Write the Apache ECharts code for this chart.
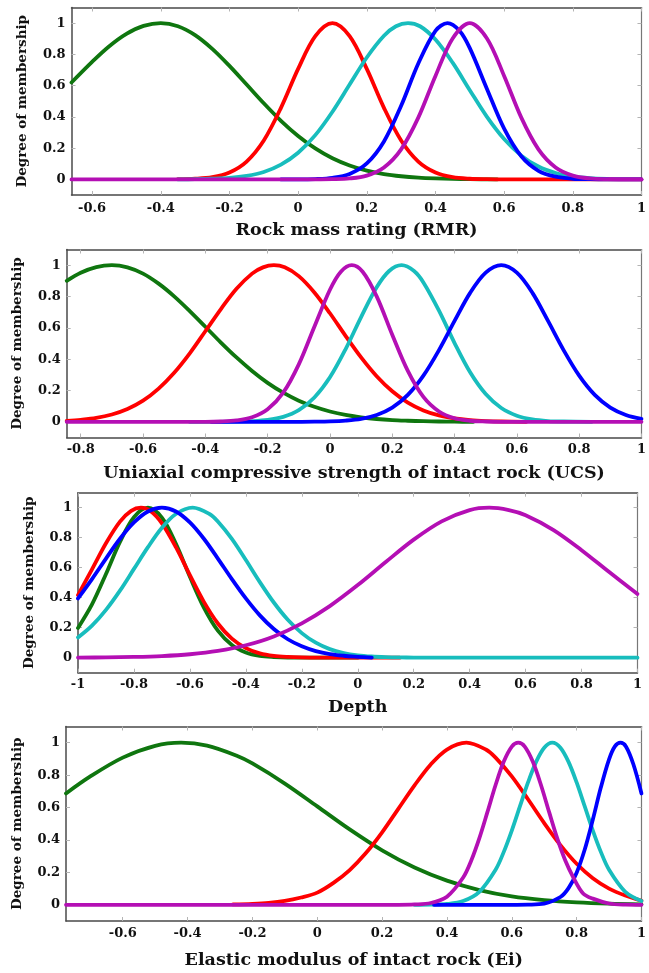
<!DOCTYPE html>
<html><head><meta charset="utf-8">
<script src="https://cdn.jsdelivr.net/npm/echarts@6/dist/echarts.min.js"></script>
<style>html,body{margin:0;padding:0;background:#fff}#c{width:649px;height:973px}</style>
</head><body><div id="c"></div><script>
// ---------- data ----------
const yTicks = [0, 0.2, 0.4, 0.6, 0.8, 1];
const rmrTicks = [-0.6, -0.4, -0.2, 0, 0.2, 0.4, 0.6, 0.8, 1];
const ucsTicks = [-0.8, -0.6, -0.4, -0.2, 0, 0.2, 0.4, 0.6, 0.8, 1];
const depthTicks = [-1, -0.8, -0.6, -0.4, -0.2, 0, 0.2, 0.4, 0.6, 0.8, 1];
const eiTicks = [-0.6, -0.4, -0.2, 0, 0.2, 0.4, 0.6, 0.8, 1];

const rmrGreen = [[-0.66,0.62],[-0.6,0.752],[-0.55,0.852],[-0.5,0.931],[-0.45,0.982],[-0.4,1],[-0.35,0.98],[-0.3,0.923],[-0.25,0.835],[-0.2,0.726],[-0.15,0.607],[-0.1,0.487],[-0.05,0.375],[0,0.278],[0.05,0.198],[0.1,0.135],[0.15,0.089],[0.2,0.056],[0.25,0.034],[0.3,0.02],[0.35,0.011],[0.4,0.006],[0.45,0.003],[0.5,0.001],[0.58,0]];
const rmrRed = [[-0.35,0.001],[-0.3,0.004],[-0.25,0.014],[-0.2,0.044],[-0.15,0.114],[-0.1,0.249],[-0.05,0.458],[0,0.707],[0.05,0.917],[0.1,1],[0.15,0.917],[0.2,0.707],[0.25,0.458],[0.3,0.249],[0.35,0.114],[0.4,0.044],[0.45,0.014],[0.5,0.004],[0.55,0.001],[0.6,0],[1,0]];
const rmrCyan = [[-0.35,0],[-0.3,0.001],[-0.25,0.004],[-0.2,0.009],[-0.15,0.022],[-0.1,0.047],[-0.05,0.094],[0,0.17],[0.05,0.283],[0.1,0.433],[0.15,0.607],[0.2,0.78],[0.25,0.919],[0.285,0.98],[0.32,1],[0.355,0.98],[0.4,0.895],[0.45,0.747],[0.5,0.571],[0.55,0.4],[0.6,0.258],[0.65,0.152],[0.7,0.082],[0.75,0.041],[0.8,0.019],[0.85,0.008],[0.9,0.003]];
const rmrBlue = [[-0.05,0],[0,0],[0.05,0.002],[0.1,0.01],[0.15,0.035],[0.2,0.102],[0.25,0.243],[0.3,0.471],[0.35,0.742],[0.4,0.951],[0.435,1],[0.47,0.951],[0.5,0.84],[0.55,0.579],[0.6,0.325],[0.65,0.148],[0.7,0.055],[0.75,0.017],[0.8,0.004],[0.85,0.001],[0.9,0],[1,0]];
const rmrPurple = [[-0.66,0],[0,0],[0.05,0],[0.1,0.001],[0.15,0.006],[0.2,0.024],[0.25,0.076],[0.3,0.192],[0.35,0.395],[0.4,0.662],[0.45,0.902],[0.5,1],[0.55,0.902],[0.6,0.662],[0.65,0.395],[0.7,0.192],[0.75,0.076],[0.8,0.024],[0.85,0.006],[0.9,0.001],[0.95,0],[1,0]];

const ucsGreen = [[-0.845,0.9],[-0.8,0.952],[-0.75,0.988],[-0.7,1],[-0.65,0.986],[-0.6,0.946],[-0.55,0.882],[-0.5,0.801],[-0.45,0.707],[-0.4,0.607],[-0.35,0.506],[-0.3,0.411],[-0.25,0.325],[-0.2,0.249],[-0.15,0.186],[-0.1,0.135],[-0.05,0.096],[0,0.066],[0.05,0.044],[0.1,0.029],[0.15,0.018],[0.2,0.011],[0.25,0.007],[0.3,0.004],[0.35,0.002],[0.4,0.001],[0.46,0]];
const ucsRed = [[-0.845,0.006],[-0.8,0.013],[-0.75,0.025],[-0.7,0.047],[-0.65,0.082],[-0.6,0.135],[-0.55,0.212],[-0.5,0.313],[-0.45,0.437],[-0.4,0.578],[-0.35,0.72],[-0.3,0.849],[-0.25,0.946],[-0.215,0.986],[-0.18,1],[-0.145,0.986],[-0.1,0.93],[-0.05,0.826],[0,0.693],[0.05,0.549],[0.1,0.411],[0.15,0.291],[0.2,0.195],[0.25,0.123],[0.3,0.073],[0.35,0.041],[0.4,0.022],[0.45,0.011],[0.5,0.005],[0.55,0.002],[0.63,0]];
const ucsCyan = [[-0.45,0],[-0.3,0.001],[-0.25,0.004],[-0.2,0.012],[-0.15,0.032],[-0.1,0.075],[-0.05,0.155],[0,0.284],[0.05,0.463],[0.1,0.669],[0.15,0.859],[0.19,0.963],[0.23,1],[0.27,0.963],[0.3,0.89],[0.35,0.71],[0.4,0.503],[0.45,0.316],[0.5,0.177],[0.55,0.088],[0.6,0.039],[0.65,0.015],[0.7,0.005],[0.75,0.002],[0.84,0]];
const ucsBlue = [[-0.38,0],[-0.1,0],[-0.05,0.001],[0,0.003],[0.05,0.008],[0.1,0.019],[0.15,0.044],[0.2,0.091],[0.25,0.172],[0.3,0.295],[0.35,0.458],[0.4,0.644],[0.45,0.823],[0.5,0.952],[0.55,1],[0.6,0.952],[0.65,0.823],[0.7,0.644],[0.75,0.458],[0.8,0.295],[0.85,0.172],[0.9,0.091],[0.95,0.044],[1,0.019]];
const ucsPurple = [[-0.845,0],[-0.4,0],[-0.35,0.002],[-0.3,0.009],[-0.25,0.029],[-0.2,0.08],[-0.15,0.186],[-0.1,0.367],[-0.05,0.607],[0,0.843],[0.035,0.958],[0.07,1],[0.105,0.958],[0.15,0.801],[0.2,0.556],[0.25,0.325],[0.3,0.159],[0.35,0.066],[0.4,0.023],[0.45,0.007],[0.5,0.002],[0.55,0],[1,0]];

const depthGreen = [[-1,0.198],[-0.95,0.355],[-0.9,0.558],[-0.85,0.772],[-0.8,0.937],[-0.75,1],[-0.7,0.934],[-0.65,0.76],[-0.6,0.539],[-0.55,0.334],[-0.5,0.18],[-0.45,0.085],[-0.4,0.035],[-0.35,0.012],[-0.3,0.004],[-0.25,0.001],[0,0]];
const depthRed = [[-1,0.417],[-0.95,0.589],[-0.9,0.763],[-0.85,0.907],[-0.81,0.979],[-0.775,1],[-0.74,0.977],[-0.7,0.896],[-0.65,0.737],[-0.6,0.55],[-0.55,0.372],[-0.5,0.228],[-0.45,0.127],[-0.4,0.064],[-0.35,0.029],[-0.3,0.012],[-0.25,0.005],[-0.2,0.002],[-0.1,0],[0.15,0]];
const depthCyan = [[-1,0.135],[-0.95,0.214],[-0.9,0.319],[-0.85,0.447],[-0.8,0.592],[-0.75,0.737],[-0.7,0.866],[-0.65,0.958],[-0.59,1],[-0.53,0.958],[-0.5,0.908],[-0.45,0.792],[-0.4,0.651],[-0.35,0.504],[-0.3,0.368],[-0.25,0.253],[-0.2,0.164],[-0.15,0.1],[-0.1,0.057],[-0.05,0.031],[0,0.016],[0.05,0.008],[0.1,0.004],[0.15,0.002],[0.2,0.001],[0.3,0],[1,0]];
const depthBlue = [[-1,0.395],[-0.95,0.524],[-0.9,0.661],[-0.85,0.793],[-0.8,0.902],[-0.75,0.975],[-0.7,1],[-0.65,0.975],[-0.6,0.902],[-0.55,0.793],[-0.5,0.661],[-0.45,0.524],[-0.4,0.395],[-0.35,0.282],[-0.3,0.191],[-0.25,0.123],[-0.2,0.076],[-0.15,0.044],[-0.1,0.024],[-0.05,0.013],[0,0.006],[0.05,0]];
const depthPurple = [[-1,0.001],[-0.9,0.002],[-0.8,0.005],[-0.7,0.011],[-0.6,0.023],[-0.5,0.045],[-0.4,0.083],[-0.3,0.142],[-0.2,0.229],[-0.1,0.344],[0,0.484],[0.1,0.638],[0.2,0.787],[0.3,0.909],[0.4,0.984],[0.47,1],[0.54,0.984],[0.6,0.95],[0.7,0.851],[0.8,0.717],[0.9,0.569],[1,0.425]];

const eiGreen = [[-0.775,0.687],[-0.7,0.792],[-0.6,0.908],[-0.5,0.981],[-0.42,1],[-0.34,0.982],[-0.25,0.921],[-0.2,0.872],[-0.1,0.748],[0,0.607],[0.1,0.465],[0.2,0.336],[0.3,0.23],[0.4,0.149],[0.5,0.091],[0.6,0.052],[0.7,0.029],[0.8,0.015],[0.9,0.007],[1,0.003]];
const eiRed = [[-0.26,0.002],[-0.2,0.006],[-0.15,0.012],[-0.1,0.024],[-0.05,0.045],[0,0.075],[0.05,0.135],[0.1,0.214],[0.15,0.319],[0.2,0.447],[0.25,0.592],[0.3,0.737],[0.35,0.866],[0.4,0.958],[0.46,1],[0.52,0.958],[0.55,0.908],[0.6,0.792],[0.65,0.651],[0.7,0.504],[0.75,0.368],[0.8,0.253],[0.85,0.164],[0.9,0.1],[0.95,0.057],[1,0.025]];
const eiCyan = [[0.3,0],[0.35,0.001],[0.4,0.005],[0.45,0.023],[0.5,0.08],[0.55,0.216],[0.575,0.325],[0.6,0.458],[0.625,0.607],[0.65,0.755],[0.675,0.882],[0.7,0.969],[0.725,1],[0.75,0.969],[0.775,0.882],[0.8,0.755],[0.825,0.607],[0.85,0.458],[0.875,0.325],[0.9,0.216],[0.95,0.08],[1,0.023]];
const eiBlue = [[0.36,0],[0.6,0],[0.65,0.001],[0.7,0.007],[0.75,0.048],[0.775,0.103],[0.8,0.198],[0.825,0.341],[0.85,0.526],[0.875,0.726],[0.9,0.897],[0.918,0.977],[0.935,1],[0.952,0.977],[0.975,0.867],[1,0.687]];
const eiPurple = [[-0.775,0],[0.25,0],[0.3,0.002],[0.35,0.011],[0.4,0.05],[0.45,0.168],[0.475,0.273],[0.5,0.411],[0.525,0.573],[0.55,0.739],[0.575,0.882],[0.6,0.976],[0.62,1],[0.64,0.976],[0.665,0.882],[0.69,0.739],[0.715,0.573],[0.74,0.411],[0.765,0.273],[0.79,0.168],[0.82,0.07],[0.85,0.038],[0.9,0.008],[0.95,0.001],[1,0]];

// ---------- presentation ----------
const COLORS = {green:'#0f760f', red:'#ff0000', cyan:'#18bdbd', blue:'#0000ff', purple:'#b40fb4'};
const FONT = 'DejaVu Serif';
const panels = [
  {title:'Rock mass rating (RMR)', min:-0.66, max:1, ticks:rmrTicks, grid:{left:71.5, top:7.5, width:571.5, height:187.5}, margin:7, nameGap:26,
   curves:[['green',rmrGreen],['red',rmrRed],['cyan',rmrCyan],['blue',rmrBlue],['purple',rmrPurple]]},
  {title:'Uniaxial compressive strength of intact rock (UCS)', min:-0.845, max:1, ticks:ucsTicks, grid:{left:66.7, top:249.5, width:581.3, height:188}, margin:6, nameGap:27,
   curves:[['green',ucsGreen],['red',ucsRed],['cyan',ucsCyan],['blue',ucsBlue],['purple',ucsPurple]]},
  {title:'Depth', min:-1, max:1, ticks:depthTicks, grid:{left:78, top:492.7, width:559.5, height:180}, margin:5, nameGap:26,
   curves:[['green',depthGreen],['red',depthRed],['cyan',depthCyan],['blue',depthBlue],['purple',depthPurple]]},
  {title:'Elastic modulus of intact rock (Ei)', min:-0.775, max:1, ticks:eiTicks, grid:{left:66, top:726.5, width:579.5, height:194.5}, margin:6, nameGap:30,
   curves:[['green',eiGreen],['red',eiRed],['cyan',eiCyan],['blue',eiBlue],['purple',eiPurple]]}
];

const fmt = v => String(+(+v).toFixed(2));
const lineStyle = {color:'#4a4a4a', width:1.5};
const tickStyle = {color:'#b4b4b4', width:1};
const grids = [], xAxes = [], yAxes = [], series = [];
panels.forEach((p, i) => {
  grids.push(Object.assign({containLabel:false}, p.grid));
  const xi = xAxes.length, yi = yAxes.length;
  xAxes.push({type:'value', gridIndex:i, min:p.min, max:p.max, position:'bottom',
    axisLine:{show:true, onZero:false, lineStyle},
    axisTick:{show:true, inside:true, length:4, customValues:p.ticks, lineStyle:tickStyle},
    axisLabel:{customValues:p.ticks, margin:p.margin, formatter:fmt, fontFamily:FONT, fontWeight:'bold', fontSize:13, color:'#111'},
    splitLine:{show:false},
    name:p.title, nameLocation:'middle', nameGap:p.nameGap,
    nameTextStyle:{fontFamily:FONT, fontWeight:'bold', fontSize:17.5, color:'#111'}});
  xAxes.push({type:'value', gridIndex:i, min:p.min, max:p.max, position:'top',
    axisLine:{show:true, onZero:false, lineStyle},
    axisTick:{show:true, inside:true, length:4, customValues:p.ticks, lineStyle:tickStyle},
    axisLabel:{show:false}, splitLine:{show:false}});
  yAxes.push({type:'value', gridIndex:i, min:-0.1, max:1.1, position:'left',
    axisLine:{show:true, onZero:false, lineStyle},
    axisTick:{show:true, inside:true, length:4, customValues:yTicks, lineStyle:tickStyle},
    axisLabel:{customValues:yTicks, margin:6, formatter:fmt, fontFamily:FONT, fontWeight:'bold', fontSize:13, color:'#111'},
    splitLine:{show:false},
    name:'Degree of membership', nameLocation:'middle', nameGap:42, nameRotate:90,
    nameTextStyle:{fontFamily:FONT, fontWeight:'bold', fontSize:13.5, color:'#111'}});
  yAxes.push({type:'value', gridIndex:i, min:-0.1, max:1.1, position:'right',
    axisLine:{show:true, onZero:false, lineStyle:{color:'#777', width:1.2}},
    axisTick:{show:true, inside:true, length:4, customValues:yTicks, lineStyle:tickStyle},
    axisLabel:{show:false}, splitLine:{show:false}});
  p.curves.forEach(([c, data]) => {
    series.push({type:'line', xAxisIndex:xi, yAxisIndex:yi, data, showSymbol:false, symbol:'none',
      smooth:0.33, lineStyle:{color:COLORS[c], width:3.8, cap:'round', join:'round'}, itemStyle:{color:COLORS[c]},
      animation:false, silent:true});
  });
});

const chart = echarts.init(document.getElementById('c'), null, {renderer:'canvas'});
chart.setOption({backgroundColor:'#fff', animation:false, grid:grids, xAxis:xAxes, yAxis:yAxes, series});
</script></body></html>
